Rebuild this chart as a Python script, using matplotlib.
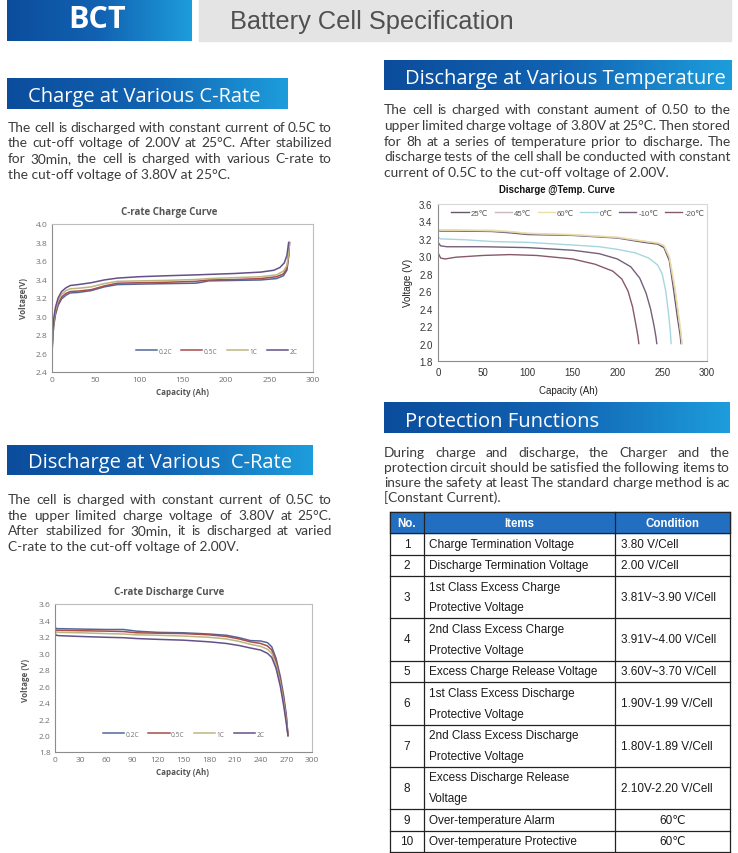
import numpy as np
import matplotlib
matplotlib.use('Agg')
import matplotlib.pyplot as plt
from matplotlib.colors import LinearSegmentedColormap
from matplotlib.patches import Rectangle

# ---- data ----
crate_labels = ['0.2C', '0.5C', '1C', '2C']
crate_colors = ['#52679a', '#a84c4c', '#bdb57e', '#64508a']

# C-rate charge curve (capacity Ah, voltage V)
charge_x_02 = [0, 1, 2, 4, 7, 11, 16, 21, 30, 45, 60, 75, 100, 130, 165, 172, 180, 210, 240, 258, 266, 270, 272, 273]
charge_v_02 = [2.60, 2.78, 2.90, 3.02, 3.12, 3.19, 3.23, 3.255, 3.26, 3.28, 3.32, 3.345, 3.35, 3.355, 3.36, 3.37,
               3.385, 3.39, 3.395, 3.41, 3.44, 3.50, 3.65, 3.79]
charge_x_05 = [0, 1, 2, 4, 7, 11, 16, 21, 30, 45, 60, 75, 100, 130, 165, 180, 210, 240, 258, 266, 270, 272, 273]
charge_v_05 = [2.62, 2.80, 2.92, 3.04, 3.14, 3.21, 3.25, 3.27, 3.275, 3.29, 3.33, 3.36, 3.365, 3.37, 3.38, 3.395,
               3.40, 3.41, 3.43, 3.46, 3.52, 3.66, 3.80]
charge_x_1 = [0, 1, 2, 4, 7, 11, 16, 21, 30, 45, 60, 75, 100, 130, 165, 180, 210, 240, 258, 266, 270, 272, 273]
charge_v_1 = [2.63, 2.83, 2.95, 3.07, 3.17, 3.24, 3.28, 3.30, 3.305, 3.32, 3.355, 3.38, 3.385, 3.39, 3.40, 3.41,
              3.42, 3.43, 3.45, 3.49, 3.55, 3.68, 3.80]
charge_x_2 = [0, 1, 2, 4, 7, 11, 16, 21, 30, 45, 60, 75, 100, 130, 165, 180, 210, 240, 255, 262, 267, 270, 272]
charge_v_2 = [2.65, 2.86, 2.98, 3.10, 3.20, 3.27, 3.31, 3.335, 3.345, 3.365, 3.395, 3.415, 3.43, 3.44, 3.45, 3.455,
              3.465, 3.48, 3.50, 3.53, 3.58, 3.66, 3.80]

# C-rate discharge curve
dis_x = [0, 1, 5, 30, 60, 80, 95, 120, 150, 180, 200, 215, 228, 240, 248, 253, 258, 263, 267, 270, 272]
dis_v_02 = [3.34, 3.30, 3.30, 3.295, 3.29, 3.29, 3.27, 3.255, 3.25, 3.235, 3.22, 3.19, 3.155, 3.15, 3.13, 3.08,
            2.94, 2.72, 2.48, 2.25, 2.0]
dis_v_05 = [3.32, 3.28, 3.28, 3.275, 3.27, 3.265, 3.25, 3.245, 3.24, 3.225, 3.205, 3.175, 3.14, 3.12, 3.09, 3.04,
            2.90, 2.68, 2.44, 2.22, 2.0]
dis_v_1 = [3.30, 3.26, 3.255, 3.25, 3.24, 3.235, 3.225, 3.22, 3.21, 3.195, 3.175, 3.145, 3.11, 3.085, 3.05, 3.00,
           2.86, 2.64, 2.40, 2.18, 2.0]
dis_v_2 = [3.27, 3.22, 3.215, 3.205, 3.195, 3.19, 3.18, 3.17, 3.16, 3.14, 3.12, 3.095, 3.065, 3.04, 3.00, 2.95,
           2.82, 2.60, 2.36, 2.15, 2.0]

# discharge at temperature
temp_labels = ['25℃', '45℃', '60℃', '0℃', '-10℃', '-20℃']
temp_colors = ['#66566a', '#cdb6bd', '#eadfa6', '#a6d6df', '#74607a', '#86596b']
t25_x = [0, 2, 20, 60, 80, 100, 150, 200, 230, 245, 252, 258, 263, 267, 270, 271]
t25_v = [3.30, 3.29, 3.29, 3.285, 3.27, 3.25, 3.24, 3.21, 3.16, 3.14, 3.10, 2.95, 2.6, 2.3, 2.1, 2.0]
t45_x = [0, 2, 20, 60, 80, 100, 150, 200, 230, 245, 252, 258, 264, 268, 271, 272]
t45_v = [3.31, 3.30, 3.30, 3.29, 3.28, 3.26, 3.245, 3.215, 3.17, 3.15, 3.12, 2.98, 2.62, 2.32, 2.1, 2.0]
t60_x = [0, 2, 20, 60, 80, 100, 150, 200, 230, 245, 252, 258, 264, 268, 271, 272]
t60_v = [3.31, 3.30, 3.30, 3.30, 3.285, 3.265, 3.25, 3.22, 3.175, 3.155, 3.125, 3.0, 2.66, 2.36, 2.12, 2.0]
t0_x = [0, 3, 30, 60, 100, 150, 180, 200, 220, 235, 245, 250, 254, 257, 259, 260]
t0_v = [3.22, 3.20, 3.19, 3.17, 3.16, 3.13, 3.11, 3.08, 3.04, 2.98, 2.90, 2.80, 2.6, 2.35, 2.15, 2.0]
tm10_x = [0, 3, 10, 50, 100, 150, 180, 200, 215, 225, 232, 237, 241, 243, 244]
tm10_v = [3.16, 3.12, 3.11, 3.11, 3.10, 3.07, 3.03, 2.97, 2.88, 2.75, 2.58, 2.4, 2.2, 2.08, 2.0]
tm20_x = [0, 3, 8, 20, 50, 80, 110, 150, 175, 195, 205, 212, 217, 221, 223, 224]
tm20_v = [3.04, 2.98, 2.97, 2.99, 3.01, 3.02, 3.01, 2.97, 2.91, 2.83, 2.74, 2.6, 2.42, 2.2, 2.08, 2.0]

# protection table
prot_head = ['No.', 'Items', 'Condition']
prot_no = ['1', '2', '3', '4', '5', '6', '7', '8', '9', '10']
prot_items = ['Charge Termination Voltage', 'Discharge Termination Voltage',
              '1st Class Excess Charge\nProtective Voltage', '2nd Class Excess Charge\nProtective Voltage',
              'Excess Charge Release Voltage', '1st Class Excess Discharge\nProtective Voltage',
              '2nd Class Excess Discharge\nProtective Voltage', 'Excess Discharge Release\nVoltage',
              'Over-temperature Alarm', 'Over-temperature Protective']
prot_cond = ['3.80 V/Cell', '2.00 V/Cell', '3.81V~3.90 V/Cell', '3.91V~4.00 V/Cell', '3.60V~3.70 V/Cell',
             '1.90V-1.99 V/Cell', '1.80V-1.89 V/Cell', '2.10V-2.20 V/Cell', '60℃', '60℃']

# paragraphs
para_charge = ['The cell is discharged with constant current of 0.5C to',
               'the cut-off voltage of 2.00V at 25°C. After stabilized',
               'for 30min, the cell is charged with various C-rate to',
               'the cut-off voltage of 3.80V at 25°C.']
para_temp = ['The cell is charged with constant aument of 0.50 to the',
             'upper limited charge voltage of 3.80V at 25°C. Then stored',
             'for 8h at a series of temperature prior to discharge. The',
             'discharge tests of the cell shall be conducted with constant',
             'current of 0.5C to the cut-off voltage of 2.00V.']
para_dis = ['The cell is charged with constant current of 0.5C to',
            'the upper limited charge voltage of 3.80V at 25°C.',
            'After stabilized for 30min, it is discharged at varied',
            'C-rate to the cut-off voltage of 2.00V.']
para_prot = ['During charge and discharge, the Charger and the',
             'protection circuit should be satisfied the following items to',
             'insure the safety at least The standard charge method is ac',
             '[Constant Current).']

# ---- figure ----
W, H = 738, 854
plt.rcParams['font.family'] = ['Open Sans', 'DejaVu Sans']
ARIAL = ['Liberation Sans', 'DejaVu Sans']
BODY = ['Lato', 'DejaVu Sans']

fig = plt.figure(figsize=(W / 100, H / 100), dpi=100, facecolor='white')
bg = fig.add_axes([0, 0, 1, 1])
bg.axis('off')
renderer = fig.canvas.get_renderer()

blue = LinearSegmentedColormap.from_list('hdr', ['#0b4d9c', '#1262b2', '#1d9ddc'])
grad = np.linspace(0, 1, 256).reshape(1, -1)


def grad_box(x0, y0, x1, y1):
    bg.imshow(grad, cmap=blue, extent=[x0, x1, y1, y0], aspect='auto', interpolation='bilinear')


def justify(lines, x0, x1, y0, step, size, color='#3c3c3c'):
    for i, line in enumerate(lines):
        y = y0 + i * step
        if i == len(lines) - 1:
            bg.text(x0, y, line, fontsize=size, color=color, va='baseline', family=BODY)
            continue
        words = line.split()
        texts = [bg.text(0, y, w, fontsize=size, color=color, va='baseline', family=BODY) for w in words]
        widths = [t.get_window_extent(renderer).width for t in texts]
        gap = (x1 - x0 - sum(widths)) / (len(words) - 1)
        x = x0
        for t, w in zip(texts, widths):
            t.set_x(x)
            x += w + gap


# header
grad_box(7, 0, 192, 41.7)
bg.add_patch(Rectangle((199, 0), 532, 41.7, color='#e4e4e4'))
bg.text(97, 27.5, 'BCT', fontsize=22, fontweight='bold', color='white', ha='center', va='baseline')
bg.text(230, 28.5, 'Battery Cell Specification', fontsize=18.3, color='#505050', va='baseline', family=ARIAL)

# section headers
grad_box(7, 79, 288, 110)
bg.text(28, 101.7, 'Charge at Various C-Rate', fontsize=14.5, color='white', va='baseline')
grad_box(384, 61.7, 731.7, 91)
bg.text(405, 84.3, 'Discharge at Various Temperature', fontsize=14.5, color='white', va='baseline')
grad_box(7, 446.7, 313, 476)
bg.text(28, 468.3, 'Discharge at Various  C-Rate', fontsize=14.5, color='white', va='baseline')
grad_box(384, 404, 730, 434.3)
bg.text(405, 426.7, 'Protection Functions', fontsize=14.5, color='white', va='baseline')

justify(para_charge, 8, 332, 131.7, 15.7, 9.9)
justify(para_temp, 384, 731, 114.3, 15.7, 9.9)
justify(para_dis, 8, 332, 504, 15.7, 9.9)
justify(para_prot, 384, 730, 457.3, 15.0, 9.9)

# table
row_edges = [513.3, 534.3, 555.7, 576.7, 619.3, 661.7, 683.3, 725.7, 767.7, 810, 831.7, 853.3]
col_edges = [390, 424, 615, 730]
bg.add_patch(Rectangle((390, 513.3), 340, 21, color='#226fc2'))
for xe in col_edges:
    bg.plot([xe, xe], [row_edges[0], row_edges[-1]], color='#222222', lw=0.9)
for ye in row_edges:
    bg.plot([390, 730], [ye, ye], color='#222222', lw=0.9)
hc = (row_edges[0] + row_edges[1]) / 2
for txt, xc in zip(prot_head, [407, 519.5, 672.5]):
    bg.text(xc, hc + 0.5, txt, fontsize=8.3, fontweight='bold', color='white', ha='center', va='center',
            family=ARIAL)
for i in range(len(prot_no)):
    top, bot = row_edges[i + 1], row_edges[i + 2]
    mid = (top + bot) / 2
    bg.text(407, mid, prot_no[i], fontsize=8.5, color='#1a1a1a', ha='center', va='center', family=ARIAL)
    parts = prot_items[i].split('\n')
    if len(parts) == 1:
        bg.text(429, mid, parts[0], fontsize=8.5, color='#1a1a1a', va='center', family=ARIAL)
    else:
        bg.text(429, mid - 10.4, parts[0], fontsize=8.5, color='#1a1a1a', va='center', family=ARIAL)
        bg.text(429, mid + 10.4, parts[1], fontsize=8.5, color='#1a1a1a', va='center', family=ARIAL)
    if prot_cond[i].endswith('℃'):
        bg.text(673, mid, prot_cond[i], fontsize=8.5, color='#1a1a1a', ha='center', va='center', family=ARIAL)
    else:
        bg.text(621, mid, prot_cond[i], fontsize=8.5, color='#1a1a1a', va='center', family=ARIAL)

bg.set_xlim(0, W)
bg.set_ylim(H, 0)


def px_axes(x0, y0, x1, y1):
    return fig.add_axes([x0 / W, 1 - y1 / H, (x1 - x0) / W, (y1 - y0) / H])


def style_small(ax):
    ax.tick_params(length=0, labelsize=6, colors='#707070', pad=3)
    for s in ['left', 'bottom']:
        ax.spines[s].set_color('#8c8c8c')
    for s in ['top', 'right']:
        ax.spines[s].set_color('#bdbdbd')
    for s in ax.spines.values():
        s.set_linewidth(0.8)


# chart 1: C-rate charge
ax1 = px_axes(52, 225, 313, 373)
for xs, vs, c, lab in zip([charge_x_02, charge_x_05, charge_x_1, charge_x_2],
                          [charge_v_02, charge_v_05, charge_v_1, charge_v_2], crate_colors, crate_labels):
    ax1.plot(xs, vs, color=c, lw=1.1, label=lab)
ax1.set_xlim(0, 300)
ax1.set_ylim(2.4, 4.0)
ax1.set_xticks(range(0, 301, 50))
ax1.set_yticks(np.arange(2.4, 4.01, 0.2))
ax1.set_yticklabels(['%.1f' % v for v in np.arange(2.4, 4.01, 0.2)])
style_small(ax1)
ax1.legend(ncol=4, loc='center', bbox_to_anchor=(0.63, 0.14), frameon=False, fontsize=4.8,
           handlelength=3.2, columnspacing=1.4, handletextpad=0.2, labelcolor='#707070')
bg.text(169, 213, 'C-rate Charge Curve', fontsize=7, fontweight='bold', color='#555555', ha='center', va='center')
bg.text(182, 393, 'Capacity (Ah)', fontsize=5.8, fontweight='bold', color='#555555', ha='center', va='center')
bg.text(24, 299, 'Voltage(V)', fontsize=5.8, fontweight='bold', color='#555555', ha='center', va='center',
        rotation=90)

# chart 2: C-rate discharge
ax2 = px_axes(55, 605, 312, 753)
for vs, c, lab in zip([dis_v_02, dis_v_05, dis_v_1, dis_v_2], crate_colors, crate_labels):
    ax2.plot(dis_x, vs, color=c, lw=1.1, label=lab)
ax2.set_xlim(0, 300)
ax2.set_ylim(1.8, 3.6)
ax2.set_xticks(range(0, 301, 30))
ax2.set_yticks(np.arange(1.8, 3.61, 0.2))
ax2.set_yticklabels(['%.1f' % v for v in np.arange(1.8, 3.61, 0.2)])
style_small(ax2)
ax2.legend(ncol=4, loc='center', bbox_to_anchor=(0.5, 0.12), frameon=False, fontsize=4.8,
           handlelength=3.2, columnspacing=1.4, handletextpad=0.2, labelcolor='#707070')
bg.text(169, 593, 'C-rate Discharge Curve', fontsize=7, fontweight='bold', color='#555555', ha='center',
        va='center')
bg.text(183, 773, 'Capacity (Ah)', fontsize=5.8, fontweight='bold', color='#555555', ha='center', va='center')
bg.text(25, 680, 'Voltage (V)', fontsize=5.8, fontweight='bold', color='#555555', ha='center', va='center',
        rotation=90)

# chart 3: discharge at temperature
ax3 = px_axes(438, 205, 707, 362)
for xs, vs, c, lab in zip([t25_x, t45_x, t60_x, t0_x, tm10_x, tm20_x],
                          [t25_v, t45_v, t60_v, t0_v, tm10_v, tm20_v], temp_colors, temp_labels):
    ax3.plot(xs, vs, color=c, lw=1.0, label=lab)
ax3.set_xlim(0, 300)
ax3.set_ylim(1.8, 3.6)
ax3.set_xticks(range(0, 301, 50))
ax3.set_yticks(np.arange(1.8, 3.61, 0.2))
ax3.set_yticklabels(['%.1f' % v for v in np.arange(1.8, 3.61, 0.2)])
ax3.tick_params(length=0, labelsize=7, colors='#333333', pad=4)
for lbl in ax3.get_xticklabels() + ax3.get_yticklabels():
    lbl.set_family(ARIAL)
for s in ['left', 'bottom']:
    ax3.spines[s].set_color('#8c8c8c')
for s in ['top', 'right']:
    ax3.spines[s].set_color('#d8d8d8')
leg = ax3.legend(ncol=6, loc='center', bbox_to_anchor=(0.52, 0.94), frameon=False, fontsize=5.6,
                 handlelength=2.2, columnspacing=0.8, handletextpad=0.3, labelcolor='#555555')
for t in leg.get_texts():
    t.set_family(ARIAL)
bg.text(557, 190, 'Discharge @Temp. Curve', fontsize=6.9, fontweight='bold', color='#111111', ha='center',
        va='center', family=ARIAL)
bg.text(568, 391, 'Capacity (Ah)', fontsize=7, color='#222222', ha='center', va='center', family=ARIAL)
bg.text(408, 283, 'Voltage (V)', fontsize=7, color='#222222', ha='center', va='center', family=ARIAL,
        rotation=90)

fig.savefig('out.png', dpi=100, facecolor='white')
